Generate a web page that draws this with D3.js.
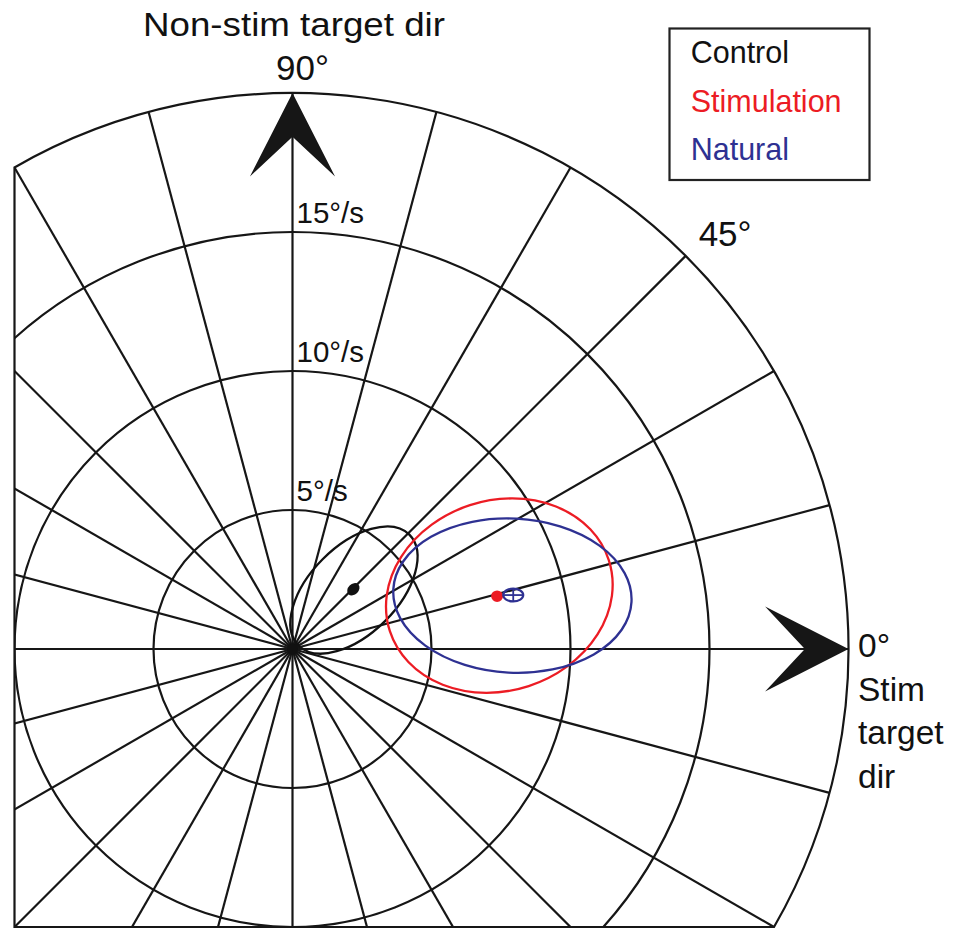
<!DOCTYPE html>
<html><head><meta charset="utf-8">
<script src="https://cdn.jsdelivr.net/npm/d3@7"></script>
<style>
html,body{margin:0;padding:0;background:#fff;}
svg{display:block;}
text{font-family:"Liberation Sans",Arial,Helvetica,sans-serif;}
</style>
</head><body>
<svg id="chart" width="960" height="929"></svg>
<script>
// ---------------- data ----------------
const ringValues = [5, 10, 15];
const ringLabels = ["5°/s", "10°/s", "15°/s"];
const outerValue = 20;
const clipValue = -10;
const spokeAngles = [0,15,30,45,60,75,90,105,120,135,150,165,180,195,210,225,240,255,270,285,300,315,330,345];
const arrowAngles = [0, 90];
const conditions = ["Control", "Stimulation", "Natural"];
// confidence ellipses (°/s, x = stim target dir, y = non-stim target dir)
const ellipseCX = [2.21, 7.44, 7.91];
const ellipseCY = [2.12, 1.92, 1.92];
const ellipseA = [2.82, 4.14, 4.29];
const ellipseB = [1.58, 3.42, 2.77];
const ellipseAngle = [45, 18, -3];
// means with small standard-error ellipses
const meanX = [2.19, 7.36, 7.94];
const meanY = [2.15, 1.90, 1.94];
const meanA = [0.21, 0.17, 0.36];
const meanB = [0.15, 0.16, 0.23];
const meanAngle = [45, 0, 0];

// ---------------- style ----------------
const colors = ["#111111", "#ec1c24", "#2e3192"];
const cx = 292.5, cy = 649, R = 556;

const x = d3.scaleLinear().domain([-outerValue, outerValue]).range([cx - R, cx + R]);
const y = d3.scaleLinear().domain([-outerValue, outerValue]).range([cy + R, cy - R]);
const r = d3.scaleLinear().domain([0, outerValue]).range([0, R]);
const rad = d => d * Math.PI / 180;

const svg = d3.select("#chart");
svg.append("rect").attr("width", 960).attr("height", 929).attr("fill", "#fff");

svg.append("defs").append("clipPath").attr("id", "plotclip")
  .append("rect").attr("x", x(clipValue)).attr("y", 0)
  .attr("width", 960).attr("height", y(clipValue));

const grid = svg.append("g").attr("clip-path", "url(#plotclip)")
  .attr("stroke", "#161616").attr("stroke-width", 2.2).attr("fill", "none");

grid.selectAll("circle.ring").data(ringValues).join("circle").attr("class", "ring")
  .attr("cx", x(0)).attr("cy", y(0)).attr("r", d => r(d));

grid.selectAll("line.spoke").data(spokeAngles).join("line").attr("class", "spoke")
  .attr("x1", x(0)).attr("y1", y(0))
  .attr("x2", d => x(outerValue * Math.cos(rad(d))))
  .attr("y2", d => y(outerValue * Math.sin(rad(d))));

// outline: outer circle cut by the left and bottom limits
const aLeft = Math.acos(clipValue / outerValue);
const aBottom = Math.asin(clipValue / outerValue);
const p = d3.path();
p.moveTo(x(clipValue), y(clipValue));
p.lineTo(x(clipValue), y(outerValue * Math.sin(aLeft)));
p.arc(x(0), y(0), r(outerValue), -aLeft, -aBottom, false);
p.closePath();
svg.append("path").attr("d", p.toString()).attr("fill", "none")
  .attr("stroke", "#161616").attr("stroke-width", 2.2);

// hub
svg.append("circle").attr("cx", x(0)).attr("cy", y(0)).attr("r", 5.5).attr("fill", "#111");

// arrowheads
function arrowPath(theta) {
  const t = rad(theta);
  const pts = [[20, 0], [17.0, 1.53], [18.43, 0], [17.0, -1.53]].map(([s, l]) => {
    const dx = s * Math.cos(t) - l * Math.sin(t);
    const dy = s * Math.sin(t) + l * Math.cos(t);
    return [x(dx), y(dy)];
  });
  return d3.line()(pts) + "Z";
}
svg.selectAll("path.arrow").data(arrowAngles).join("path").attr("class", "arrow")
  .attr("d", d => arrowPath(d)).attr("fill", "#161616");

// confidence ellipses
const idx = conditions.map((c, i) => i);
svg.selectAll("ellipse.ci").data(idx).join("ellipse").attr("class", "ci")
  .attr("cx", i => x(ellipseCX[i])).attr("cy", i => y(ellipseCY[i]))
  .attr("rx", i => r(ellipseA[i])).attr("ry", i => r(ellipseB[i]))
  .attr("transform", i => `rotate(${-ellipseAngle[i]} ${x(ellipseCX[i])} ${y(ellipseCY[i])})`)
  .attr("fill", "none").attr("stroke", i => colors[i]).attr("stroke-width", 2.3);

// means
svg.selectAll("ellipse.mean").data(idx).join("ellipse").attr("class", "mean")
  .attr("cx", i => x(meanX[i])).attr("cy", i => y(meanY[i]))
  .attr("rx", i => r(meanA[i])).attr("ry", i => r(meanB[i]))
  .attr("transform", i => `rotate(${-meanAngle[i]} ${x(meanX[i])} ${y(meanY[i])})`)
  .attr("fill", i => i === 2 ? "none" : colors[i])
  .attr("stroke", i => colors[i]).attr("stroke-width", i => i === 1 ? 2.5 : 2.2);
const crosses = svg.append("g");
[2].forEach(i => {
  crosses.append("line").attr("x1", x(meanX[i] - meanA[i])).attr("x2", x(meanX[i] + meanA[i]))
    .attr("y1", y(meanY[i])).attr("y2", y(meanY[i])).attr("stroke", colors[i]).attr("stroke-width", 1.8);
  crosses.append("line").attr("x1", x(meanX[i])).attr("x2", x(meanX[i]))
    .attr("y1", y(meanY[i] - meanB[i])).attr("y2", y(meanY[i] + meanB[i])).attr("stroke", colors[i]).attr("stroke-width", 1.8);
});

// ring labels
svg.selectAll("text.ring").data(ringValues).join("text").attr("class", "ring")
  .attr("x", x(0) + 4).attr("y", d => y(d) - 9)
  .attr("font-size", 29.5).attr("fill", "#111")
  .text((d, i) => ringLabels[i]);

// direction labels
svg.append("text").attr("x", 294).attr("y", 35.5).attr("text-anchor", "middle")
  .attr("font-size", 32.5).attr("textLength", 302).attr("lengthAdjust", "spacingAndGlyphs")
  .attr("fill", "#111").text("Non-stim target dir");
svg.append("text").attr("x", x(0) + 10).attr("y", y(outerValue) - 13).attr("text-anchor", "middle")
  .attr("font-size", 35).attr("fill", "#111").text("90°");
svg.append("text").attr("x", x(outerValue * Math.cos(rad(45))) + 13).attr("y", y(outerValue * Math.sin(rad(45))) - 9.5)
  .attr("font-size", 35).attr("fill", "#111").text("45°");
const zeroLines = ["0°", "Stim", "target", "dir"];
svg.selectAll("text.zero").data(zeroLines).join("text").attr("class", "zero")
  .attr("x", x(outerValue) + 9.5).attr("y", (d, i) => y(0) + 7.7 + i * 43.8)
  .attr("font-size", 33.5).attr("fill", "#111").text(d => d);

// legend
svg.append("rect").attr("x", 669.5).attr("y", 28.5).attr("width", 200).attr("height", 151.5)
  .attr("fill", "#fff").attr("stroke", "#222").attr("stroke-width", 2.2);
svg.selectAll("text.legend").data(conditions).join("text").attr("class", "legend")
  .attr("x", 690.7).attr("y", (d, i) => 63.3 + i * 48.35)
  .attr("font-size", 30.5).attr("fill", (d, i) => colors[i]).text(d => d);
</script>
</body></html>
